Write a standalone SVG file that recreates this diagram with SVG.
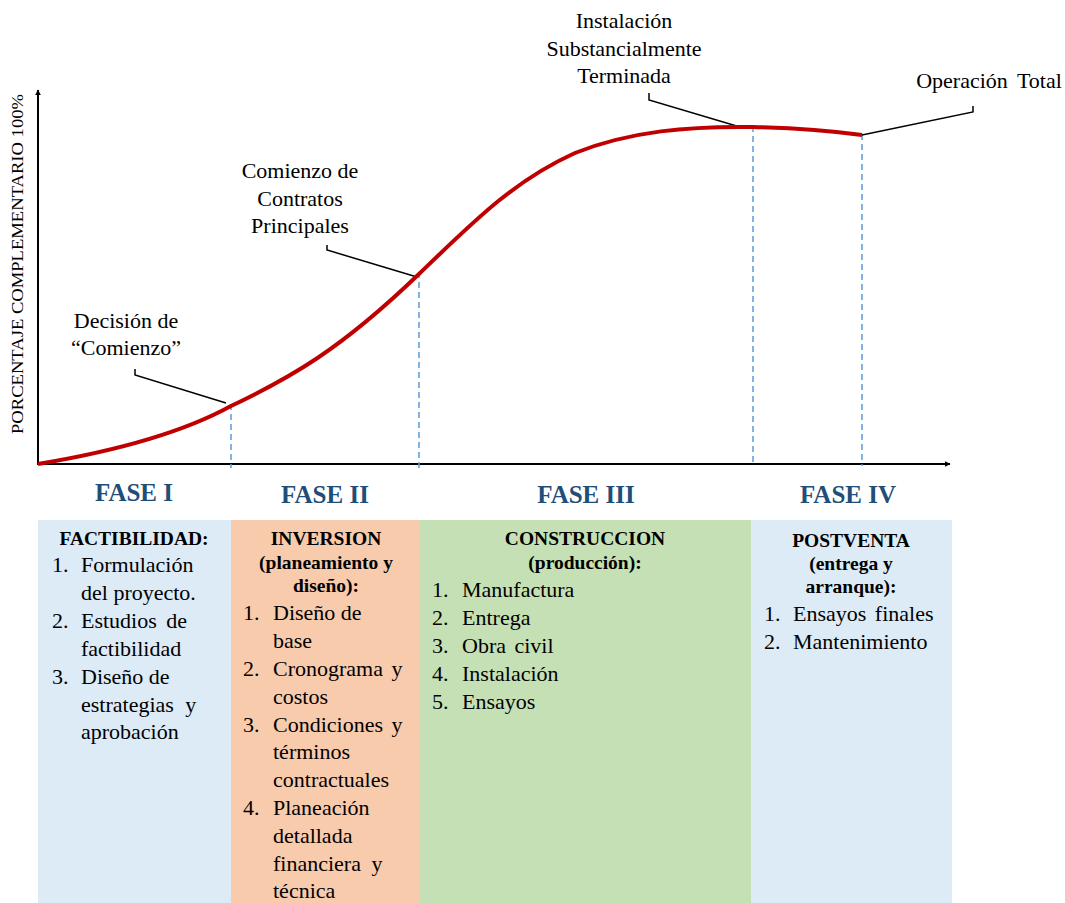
<svg xmlns="http://www.w3.org/2000/svg" width="1065" height="903" viewBox="0 0 1065 903">
<defs>
<style>
.t{font-family:"Liberation Serif","Times New Roman",serif;fill:#000;}
.c{font-size:22px;text-anchor:middle;}
.i{font-size:22px;}
.h{font-size:19.5px;font-weight:bold;text-anchor:middle;}
.f{font-family:"Liberation Serif","Times New Roman",serif;font-size:25px;font-weight:bold;fill:#1F4E79;text-anchor:middle;}
.ax{stroke:#000;stroke-width:2;fill:none;}
.co{stroke:#000;stroke-width:1.5;fill:none;}
.d{stroke:#5B9BD5;stroke-width:1.5;stroke-dasharray:6,4;fill:none;}
</style>
<marker id="ar" viewBox="0 0 10 10" refX="9" refY="5" markerWidth="6" markerHeight="6" markerUnits="userSpaceOnUse" orient="auto">
<path d="M0,0 L10,5 L0,10 z" fill="#000"/>
</marker>
</defs>
<rect width="1065" height="903" fill="#fff"/>

<g id="boxes">
<rect id="box1" x="38" y="520" width="193" height="383" fill="#DDEBF7"/>
<rect id="box2" x="231" y="520" width="189" height="383" fill="#F8CBAD"/>
<rect id="box3" x="420" y="520" width="331" height="383" fill="#C5E0B4"/>
<rect id="box4" x="751" y="520" width="201" height="383" fill="#DDEBF7"/>
</g>

<g id="axes">
<line class="ax" x1="38" y1="465" x2="38" y2="90" marker-end="url(#ar)"/>
<line class="ax" x1="37" y1="464" x2="950" y2="464" marker-end="url(#ar)"/>
</g>

<g id="connectors">
<line class="d" x1="231" y1="404" x2="231" y2="468"/>
<line class="d" x1="419" y1="272" x2="419" y2="468"/>
<line class="d" x1="753" y1="126" x2="753" y2="466"/>
<line class="d" x1="862" y1="134" x2="862" y2="466"/>
<path class="co" d="M135,369 L135,375 L226,403"/>
<path class="co" d="M327,245 L327,250 L417,277"/>
<path class="co" d="M649,93 L649,100 L740,127"/>
<path class="co" d="M973,106 L973,112 L862,135"/>
</g>

<g id="curve">
<path d="M38,464 C110,452 180,434 231,406 C290,378 340,350 419,274 C475,220 515,180 575,153 C630,131 690,126 753,127 C800,128 840,132 862,135" stroke="#C00000" stroke-width="4" fill="none"/>
</g>

<g id="ylabel">
<text class="t" font-size="16" transform="translate(23,264) rotate(-90)" text-anchor="middle" textLength="340" lengthAdjust="spacingAndGlyphs">PORCENTAJE COMPLEMENTARIO 100%</text>
</g>

<g id="callouts">
<text class="t c" x="126" y="328">Decisión de</text>
<text class="t c" x="126" y="355">“Comienzo”</text>
<text class="t c" x="300" y="178">Comienzo de</text>
<text class="t c" x="300" y="206">Contratos</text>
<text class="t c" x="300" y="233">Principales</text>
<text class="t c" x="624" y="28">Instalación</text>
<text class="t c" x="624" y="56">Substancialmente</text>
<text class="t c" x="624" y="83">Terminada</text>
<text class="t c" x="989" y="88" word-spacing="4">Operación Total</text>
</g>

<g id="phases">
<text class="f" x="134" y="501">FASE I</text>
<text class="f" x="325" y="503">FASE II</text>
<text class="f" x="586" y="503">FASE III</text>
<text class="f" x="848" y="503">FASE IV</text>
</g>

<g id="node1">
<text class="t h" x="134" y="545">FACTIBILIDAD:</text>
<text class="t i" x="52" y="572">1.</text><text class="t i" x="81" y="572">Formulación</text>
<text class="t i" x="81" y="600">del proyecto.</text>
<text class="t i" x="52" y="628">2.</text><text class="t i" x="81" y="628" word-spacing="4">Estudios de</text>
<text class="t i" x="81" y="656">factibilidad</text>
<text class="t i" x="52" y="684">3.</text><text class="t i" x="81" y="684">Diseño de</text>
<text class="t i" x="81" y="712" word-spacing="6">estrategias y</text>
<text class="t i" x="81" y="739">aprobación</text>
</g>

<g id="node2">
<text class="t h" x="326" y="545">INVERSION</text>
<text class="t h" x="326" y="569">(planeamiento y</text>
<text class="t h" x="326" y="592">diseño):</text>
<text class="t i" x="243" y="620">1.</text><text class="t i" x="273" y="620">Diseño de</text>
<text class="t i" x="273" y="648">base</text>
<text class="t i" x="243" y="676">2.</text><text class="t i" x="273" y="676" word-spacing="3">Cronograma y</text>
<text class="t i" x="273" y="704">costos</text>
<text class="t i" x="243" y="732">3.</text><text class="t i" x="273" y="732" word-spacing="3">Condiciones y</text>
<text class="t i" x="273" y="759">términos</text>
<text class="t i" x="273" y="787">contractuales</text>
<text class="t i" x="243" y="815">4.</text><text class="t i" x="273" y="815">Planeación</text>
<text class="t i" x="273" y="843">detallada</text>
<text class="t i" x="273" y="871" word-spacing="5">financiera y</text>
<text class="t i" x="273" y="898">técnica</text>
</g>

<g id="node3">
<text class="t h" x="585" y="545">CONSTRUCCION</text>
<text class="t h" x="585" y="569">(producción):</text>
<text class="t i" x="432" y="597">1.</text><text class="t i" x="462" y="597">Manufactura</text>
<text class="t i" x="432" y="625">2.</text><text class="t i" x="462" y="625">Entrega</text>
<text class="t i" x="432" y="653">3.</text><text class="t i" x="462" y="653" word-spacing="3">Obra civil</text>
<text class="t i" x="432" y="681">4.</text><text class="t i" x="462" y="681">Instalación</text>
<text class="t i" x="432" y="709">5.</text><text class="t i" x="462" y="709">Ensayos</text>
</g>

<g id="node4">
<text class="t h" x="851" y="547">POSTVENTA</text>
<text class="t h" x="851" y="570">(entrega y</text>
<text class="t h" x="851" y="593">arranque):</text>
<text class="t i" x="764" y="621">1.</text><text class="t i" x="793" y="621" word-spacing="3">Ensayos finales</text>
<text class="t i" x="764" y="649">2.</text><text class="t i" x="793" y="649">Mantenimiento</text>
</g>
</svg>
